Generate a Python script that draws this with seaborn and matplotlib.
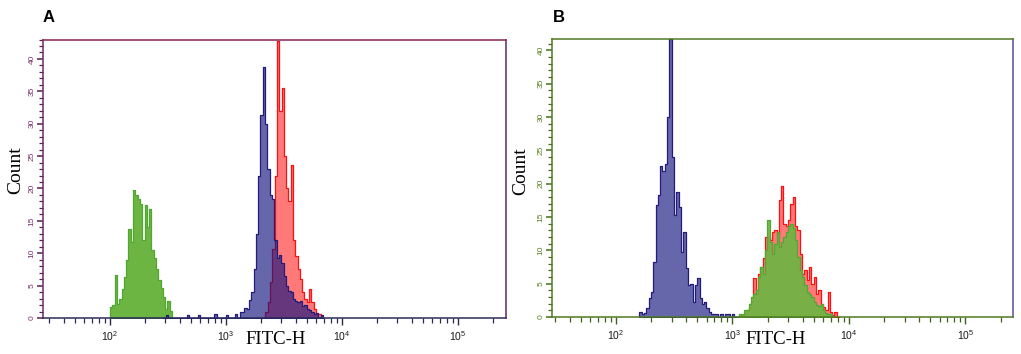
import numpy as np
import matplotlib
matplotlib.use('Agg')
import matplotlib.pyplot as plt
from matplotlib.ticker import MultipleLocator, LogLocator, NullFormatter
import seaborn as sns

sns.set_theme(style='ticks')
plt.rcParams['font.family'] = ['Liberation Sans', 'DejaVu Sans']

# channel width in decades (log10 units)
BIN = 0.02

# ---- panel A ----
a_green_start = 2.00
a_green = [1.7, 2.0, 6.6, 2.2, 3.0, 4.5, 6.3, 9.0, 13.8, 11.7,
           19.7, 19.0, 18.3, 17.6, 12.0, 17.5, 14.0, 16.8, 10.5, 9.2,
           7.6, 5.8, 4.6, 3.3, 1.4, 2.7, 1.1]

a_blue_start = 2.46
a_blue = [0, 0.5, 0, 0, 0, 0, 0, 0, 0, 0,
          0.5, 0, 0, 0, 0, 0.5, 0, 0, 0, 0,
          0, 0, 0.6, 0, 0, 0, 0, 0.5, 0, 0,
          0, 0.6, 0,
          0.9, 1.0, 1.6, 1.4, 2.8, 4.0, 7.6, 13.0, 22.0, 31.4,
          38.8, 30.0, 23.0, 19.0, 18.4, 12.0, 9.3, 9.7, 8.5, 6.5,
          5.0, 4.2, 4.0, 3.0, 2.6, 2.4, 2.7, 1.9, 2.0, 1.4,
          1.2, 0.9, 0.6, 0.8, 0, 0.5]

a_red_start = 3.34
a_red = [0.9, 2.4, 5.5, 10.7, 22.0, 42.7, 32.0, 35.5, 25.0, 20.0,
         18.0, 23.6, 12.0, 9.5, 7.6, 6.0, 4.0, 3.0, 2.4, 4.5,
         2.4, 1.4, 0.8, 0.6]

# ---- panel B ----
b_blue_start = 2.20
b_blue = [0.75, 0.5, 0.6, 1.3, 2.8, 3.8, 8.3, 16.8, 18.3, 22.6,
          21.9, 22.9, 30.0, 41.7, 24.0, 15.3, 18.8, 16.5, 9.8, 12.8,
          7.3, 4.8, 5.0, 2.3, 4.8, 5.8, 2.8, 2.0, 2.3, 1.3,
          0.75, 0.5, 0.5, 0.5, 0, 0.5, 0, 0.5, 0.4, 0,
          0.5, 0, 0]

b_red_start = 3.06
b_red = [0.25, 0.3, 0.5, 1.0, 1.5, 2.3, 5.8, 3.5, 6.5, 7.5,
         8.8, 12.0, 12.0, 11.5, 12.8, 13.0, 12.5, 17.6, 19.6, 14.0,
         13.6, 14.6, 17.0, 18.0, 13.6, 13.0, 9.5, 6.5, 7.0, 5.5,
         7.5, 5.0, 6.0, 3.5, 4.0, 2.0, 1.5, 1.0, 3.8, 0.75,
         0.25, 0.75, 0]

b_green_start = 3.06
b_green = [0.5, 0.5, 1.0, 1.0, 2.0, 3.0, 3.5, 4.0, 6.0, 7.5,
           6.5, 10.0, 14.6, 11.3, 9.5, 11.0, 12.8, 10.5, 11.3, 12.0,
           12.8, 13.6, 14.0, 13.3, 11.5, 9.0, 7.0, 6.0, 4.8, 3.8,
           3.4, 3.0, 2.3, 1.8, 1.6, 2.0, 1.0, 0.6, 0.4, 0.4]

GREEN = dict(color='#6cb543', alpha=1.0, edgecolor='#52a632')
BLUE = dict(color='#14147e', alpha=0.65, edgecolor='#231c7c')
RED = dict(color='#ff2020', alpha=0.6, edgecolor='#ff1010')
GREEN_TOP = dict(color='#6cb543', alpha=0.92, edgecolor='#52a632')


def draw_hist(ax, start, counts, style):
    n = len(counts)
    centers = 10 ** (start + BIN * (np.arange(n) + 0.5))
    # bins are given in log10 units because of log_scale
    sns.histplot(x=centers, weights=list(counts), binwidth=BIN,
                 binrange=(start, start + n * BIN - BIN / 4), log_scale=True,
                 element='step', fill=True, linewidth=0.9, ax=ax, **style)


def style_axes(ax, xlim, ymax, spines, ytick_c, ylabel_c, xtick_c, ylab_xy, xlab_xy):
    ax.set_xscale('log')
    ax.set_xlim(*xlim)
    ax.set_ylim(0, ymax)
    ax.xaxis.set_major_locator(LogLocator(base=10))
    ax.xaxis.set_minor_locator(LogLocator(base=10, subs=np.arange(2, 10)))
    ax.xaxis.set_minor_formatter(NullFormatter())
    ax.yaxis.set_major_locator(MultipleLocator(5))
    ax.yaxis.set_minor_locator(MultipleLocator(1))
    for side, c in spines.items():
        ax.spines[side].set_visible(True)
        ax.spines[side].set_color(c)
        ax.spines[side].set_linewidth(1.1)
    ax.tick_params(axis='y', which='major', direction='out', length=4.3, width=1.1,
                   color=ytick_c, labelcolor=ylabel_c, labelsize=6, pad=1.2)
    ax.tick_params(axis='y', which='minor', direction='out', length=2.8, width=0.9,
                   color=ytick_c)
    for lab in ax.get_yticklabels():
        lab.set_rotation(90)
        lab.set_va('center')
    ax.tick_params(axis='x', which='major', direction='out', length=4.8, width=1.0,
                   color=xtick_c, labelcolor='#1a1a1a', labelsize=7.5, pad=3.0)
    ax.tick_params(axis='x', which='minor', direction='out', length=3.6, width=0.9,
                   color=xtick_c)
    ax.set_ylabel('Count', family='Liberation Serif', fontsize=14, color='black')
    ax.set_xlabel('FITC-H', family='Liberation Serif', fontsize=13.5, color='black')
    ax.yaxis.set_label_coords(*ylab_xy)
    ax.xaxis.set_label_coords(*xlab_xy)
    ax.grid(False)


fig = plt.figure(figsize=(10.21, 3.54), dpi=100)
ax_a = fig.add_axes([0.04212, 0.10169, 0.45348, 0.78672])
ax_b = fig.add_axes([0.54065, 0.10452, 0.45152, 0.78531])

# panel A: green alone, red under blue
draw_hist(ax_a, a_green_start, a_green, GREEN)
draw_hist(ax_a, a_red_start, a_red, RED)
draw_hist(ax_a, a_blue_start, a_blue, BLUE)

# panel B: blue alone, green over red
draw_hist(ax_b, b_blue_start, b_blue, BLUE)
draw_hist(ax_b, b_red_start, b_red, RED)
draw_hist(ax_b, b_green_start, b_green, GREEN_TOP)

style_axes(ax_a, (10 ** 1.422, 10 ** 5.414), 43.0,
           {'top': '#8b2252', 'left': '#6b2b6b', 'right': '#5a2a6a', 'bottom': '#2b2b5b'},
           '#5a2050', '#7a3068', '#2a2a50', (-0.041, 0.53), (0.503, -0.047))
style_axes(ax_b, (10 ** 1.4506, 10 ** 5.408), 41.7,
           {'top': '#4f7a1f', 'left': '#4f7a1f', 'right': '#5a4a9a', 'bottom': '#4f7a1f'},
           '#44701a', '#5a8020', '#3f5f1a', (-0.049, 0.523), (0.486, -0.050))

fig.text(43 / 1021, 1 - 17.5 / 354, 'A', fontsize=12, fontweight='bold', color='black',
         va='center', ha='left')
fig.text(553 / 1021, 1 - 17.5 / 354, 'B', fontsize=12, fontweight='bold', color='black',
         va='center', ha='left')

fig.savefig('out.png', dpi=100)
